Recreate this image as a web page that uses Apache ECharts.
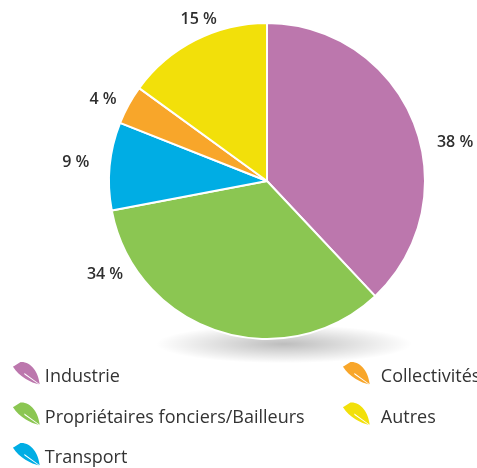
<!DOCTYPE html>
<html>
<head>
<meta charset="utf-8">
<script src="https://cdn.jsdelivr.net/npm/echarts@6/dist/echarts.min.js"></script>
<style>
  html, body { margin: 0; padding: 0; background: #ffffff; }
  #chart { width: 477px; height: 468px; }
</style>
</head>
<body>
<div id="chart"></div>
<script>
// Répartition par type d'acteur (en %)
const categories = ['Industrie', 'Propriétaires fonciers/Bailleurs', 'Transport', 'Collectivités', 'Autres'];
const shares = [38, 34, 9, 4, 15];
const sliceColors = ['#bc77ad', '#8bc652', '#00ade4', '#f8a62a', '#f2e00a'];

// Layout constants
const FONT = '"Open Sans", "Noto Sans", sans-serif';
const CENTER = [267, 181];
const RADIUS = 158;
// Per-slice label placement: angular nudge (deg) and distance from centre (px)
const labelNudge = [10, 42, 0, -2.5, 4];
const labelDist = [192, 187, 192, 183, 175];

// Leaf glyph for the legend: blunt base at top-left, tip at bottom-right,
// two halves split by a thin vein running toward the tip. The two empty
// sub-paths widen the box downward so the leaf sits slightly above the text.
const LEAF = 'path://M0,20 L28,2 C68,0 95,40 100,85 L44,44 L0,20 Z ' +
             'M0,18 L42,42 L43,49 L97,86 C70,80 22,58 0,20 Z ' +
             'M0,0 L0,0 M100,116 L100,116';

const total = shares.reduce((a, b) => a + b, 0);
const midAngles = [];
let acc = 0;
shares.forEach(v => { midAngles.push((acc + v / 2) / total * 360); acc += v; });

const chart = echarts.init(document.getElementById('chart'), null, { renderer: 'canvas' });

const legendBase = {
  orient: 'vertical',
  icon: LEAF,
  itemWidth: 27,
  itemHeight: 31,
  itemGap: 9.5,
  padding: 0,
  height: 120,
  selectedMode: false,
  itemStyle: { borderWidth: 0 },
  textStyle: { fontFamily: FONT, fontSize: 18, color: '#333333' }
};

chart.setOption({
  animation: false,
  backgroundColor: '#ffffff',
  graphic: {
    elements: [{
      type: 'circle',
      z: -1,
      x: 284,
      y: 344,
      scaleY: 0.15,
      shape: { cx: 0, cy: 0, r: 128 },
      style: {
        fill: new echarts.graphic.RadialGradient(0.5, 0.5, 0.5, [
          { offset: 0, color: 'rgba(0,0,0,0.26)' },
          { offset: 0.6, color: 'rgba(0,0,0,0.10)' },
          { offset: 1, color: 'rgba(0,0,0,0)' }
        ])
      }
    }]
  },
  legend: [
    Object.assign({}, legendBase, {
      data: categories.slice(0, 3),
      left: 13,
      top: 361.5
    }),
    Object.assign({}, legendBase, {
      data: categories.slice(3),
      left: 343,
      top: 361.5,
      textStyle: Object.assign({}, legendBase.textStyle, { padding: [0, 0, 0, 6] })
    })
  ],
  series: [{
    type: 'pie',
    z: 2,
    center: CENTER,
    radius: [0, RADIUS],
    startAngle: 90,
    clockwise: true,
    data: categories.map((name, i) => ({
      name,
      value: shares[i],
      itemStyle: { color: sliceColors[i] }
    })),
    itemStyle: { borderColor: '#ffffff', borderWidth: 2 },
    emphasis: { disabled: true },
    label: {
      show: true,
      position: 'outside',
      overflow: 'none',
      edgeDistance: 0,
      formatter: p => p.value + ' %',
      fontFamily: FONT,
      fontSize: 16,
      fontWeight: 600,
      color: '#2e2e2e'
    },
    labelLine: { show: false, length: 5, length2: 0 },
    labelLayout: params => {
      const i = params.dataIndex;
      const a = (midAngles[i] + labelNudge[i]) * Math.PI / 180;
      return {
        x: CENTER[0] + labelDist[i] * Math.sin(a),
        y: CENTER[1] - labelDist[i] * Math.cos(a),
        align: 'center',
        verticalAlign: 'middle',
        hideOverlap: false
      };
    }
  }]
});
</script>
</body>
</html>
